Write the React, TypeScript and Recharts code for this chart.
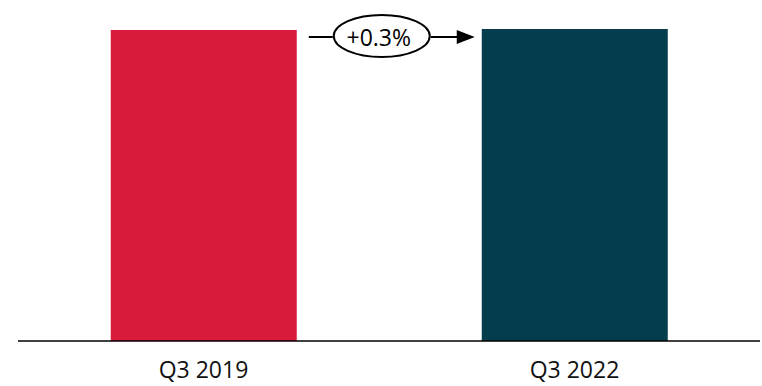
import { BarChart, Bar, XAxis, YAxis, Cell, LabelList } from "recharts";

const quarters = ["Q3 2019", "Q3 2022"];
const values = [100, 100.3];
const barColors = ["#D81B3B", "#043D4E"];
const changeLabel = "+0.3%";

const data = quarters.map((quarter, i) => ({ quarter, value: values[i] }));

const FONT = "'Open Sans', sans-serif";

// draws the "+0.3%" bubble + arrow between the two bars, anchored on the second bar
const ChangeArrow = (props: any) => {
  const { x, y, width, index } = props;
  if (index !== 1) return null;
  const prevRight = x - width; // gap between bars equals bar width at 25% category gap
  const cy = y + 8;
  const startX = prevRight + 13;
  const endX = x - 7;
  const cx = prevRight + 86;
  return (
    <g>
      <line x1={startX} y1={cy} x2={cx - 49} y2={cy} stroke="#000" strokeWidth={2} />
      <line x1={cx + 49} y1={cy} x2={endX - 16} y2={cy} stroke="#000" strokeWidth={2} />
      <polygon points={`${endX},${cy} ${endX - 18},${cy - 7} ${endX - 18},${cy + 7}`} fill="#000" />
      <ellipse cx={cx} cy={cy - 1} rx={48} ry={21} fill="#fff" stroke="#000" strokeWidth={2} />
      <text x={cx - 3} y={cy} textAnchor="middle" dominantBaseline="central" fontSize={23} fontFamily={FONT} fill="#000">
        {changeLabel}
      </text>
    </g>
  );
};

export default function App() {
  return (
    <div style={{ position: "absolute", left: 0, top: 0 }}>
      <BarChart width={762} height={386} data={data} margin={{ top: 29, right: 2, bottom: 0, left: 18 }} barCategoryGap="25%">
        <XAxis
          dataKey="quarter"
          axisLine={{ stroke: "#000", strokeWidth: 1.5 }}
          tickLine={false}
          height={45}
          tickMargin={15}
          tick={{ fontSize: 23, fontFamily: FONT, fill: "#111" }}
        />
        <YAxis hide domain={[0, "dataMax"]} />
        <Bar dataKey="value" isAnimationActive={false}>
          {data.map((d, i) => (
            <Cell key={d.quarter} fill={barColors[i]} />
          ))}
          <LabelList dataKey="value" content={ChangeArrow} />
        </Bar>
      </BarChart>
    </div>
  );
}
